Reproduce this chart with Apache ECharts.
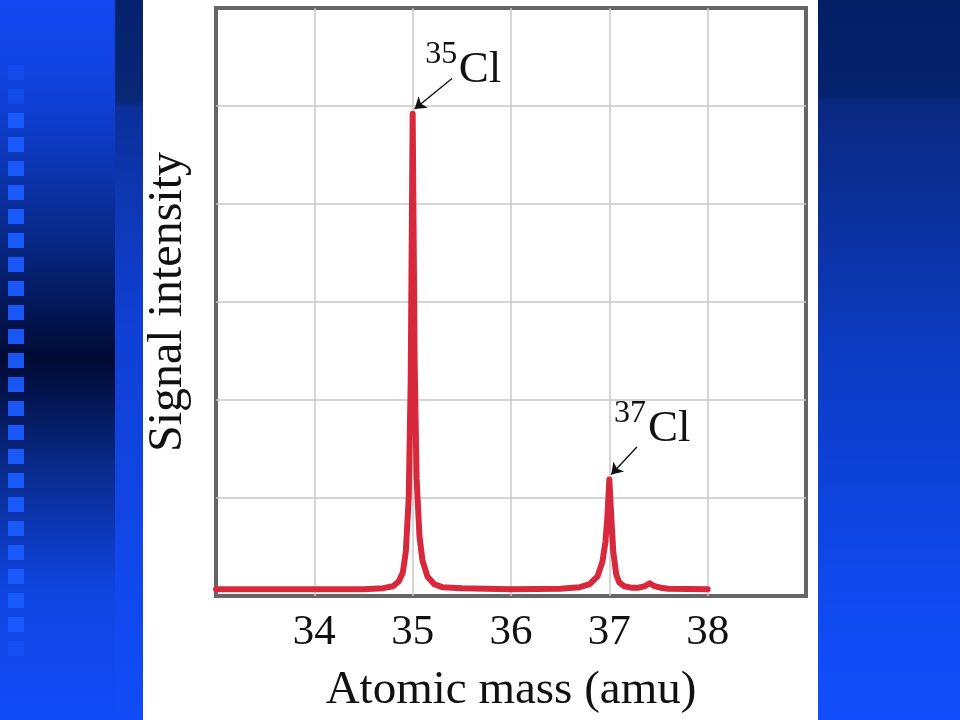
<!DOCTYPE html>
<html>
<head>
<meta charset="utf-8">
<script src="https://cdn.jsdelivr.net/npm/echarts@6/dist/echarts.min.js"></script>
<style>html,body{margin:0;padding:0;background:#fff}#c{width:960px;height:720px}</style>
</head>
<body>
<div id="c"></div>
<script>
// ---- data ----
const massValues = [33.0, 34.5, 34.7, 34.8, 34.86, 34.9, 34.93, 34.96, 34.98, 35.0, 35.02, 35.04, 35.07, 35.1, 35.15, 35.22, 35.3, 35.5, 36.0, 36.5, 36.7, 36.8, 36.88, 36.93, 36.96, 36.98, 37.0, 37.02, 37.04, 37.07, 37.1, 37.15, 37.22, 37.3, 37.36, 37.41, 37.46, 37.52, 37.6, 38.0];
const signalValues = [0.07, 0.07, 0.08, 0.1, 0.15, 0.24, 0.45, 1.0, 2.2, 4.92, 2.4, 1.2, 0.6, 0.36, 0.2, 0.12, 0.09, 0.08, 0.07, 0.075, 0.09, 0.12, 0.2, 0.35, 0.55, 0.8, 1.19, 0.8, 0.45, 0.22, 0.14, 0.1, 0.085, 0.085, 0.1, 0.13, 0.1, 0.085, 0.075, 0.07];
const tickLabels = ['34', '35', '36', '37', '38'];
// isotope labels: mass-number superscript, element symbol, arrow from/to (data coords)
const peakLabels = [
  { sup: '35', el: 'Cl', supAt: [35.29, 5.52], elAt: [35.685, 5.37], from: [35.40, 5.28], to: [35.02, 4.97] },
  { sup: '37', el: 'Cl', supAt: [37.21, 1.86], elAt: [37.61, 1.70], from: [37.28, 1.52], to: [37.02, 1.24] }
];
const xTitle = 'Atomic mass (amu)';
const yTitle = 'Signal intensity';

const serif = '"Liberation Serif", "DejaVu Serif", serif';
const chart = echarts.init(document.getElementById('c'), null, { renderer: 'canvas' });

// decorative slide background
const deco = [];
deco.push({ type: 'rect', z: -10, shape: { x: 0, y: 0, width: 960, height: 720 }, style: { fill: '#ffffff' } });
deco.push({ type: 'rect', z: -9, shape: { x: 0, y: 0, width: 116, height: 720 }, style: { fill: new echarts.graphic.LinearGradient(0, 0, 0, 1, [
  { offset: 0, color: '#1148f2' }, { offset: 0.14, color: '#0f40d8' }, { offset: 0.32, color: '#082a8c' },
  { offset: 0.5, color: '#000a33' }, { offset: 0.66, color: '#0a2c90' }, { offset: 0.82, color: '#0f44e0' }, { offset: 1, color: '#124cf8' }]) } });
deco.push({ type: 'rect', z: -9, shape: { x: 115, y: 0, width: 28, height: 720 }, style: { fill: new echarts.graphic.LinearGradient(0, 0, 0, 1, [
  { offset: 0, color: '#06226e' }, { offset: 0.14, color: '#082775' }, { offset: 0.15, color: '#0b309a' }, { offset: 0.45, color: '#1040d4' }, { offset: 1, color: '#124cf8' }]) } });
deco.push({ type: 'rect', z: -9, shape: { x: 818, y: 0, width: 142, height: 720 }, style: { fill: new echarts.graphic.LinearGradient(0, 0, 0, 1, [
  { offset: 0, color: '#041f66' }, { offset: 0.135, color: '#05226e' }, { offset: 0.14, color: '#0a2880' }, { offset: 0.5, color: '#0c3cc4' }, { offset: 0.8, color: '#0f48ec' }, { offset: 1, color: '#124ffc' }]) } });
for (let y = 65; y < 660; y += 24) {
  deco.push({ type: 'rect', z: -8, shape: { x: 8, y: y, width: 16, height: 15 }, style: { fill: '#1a5cff', opacity: y < 90 || y > 630 ? 0.4 : 0.95 } });
}

const seriesData = massValues.map((m, i) => [m, signalValues[i]]);
const gridLine = { show: true, showMinLine: false, showMaxLine: false, lineStyle: { color: '#c8c8c8', width: 1.5 } };

const labelPoints = [];
peakLabels.forEach(p => {
  labelPoints.push({ coord: p.supAt, value: p.sup, label: { fontSize: 32 } });
  labelPoints.push({ coord: p.elAt, value: p.el, label: { fontSize: 45 } });
});

chart.setOption({
  animation: false,
  graphic: deco,
  grid: { left: 216, right: 154, top: 8, bottom: 124, show: true, borderColor: '#666666', borderWidth: 4, backgroundColor: 'transparent' },
  xAxis: {
    type: 'value', min: 33, max: 39, interval: 1,
    axisLine: { show: false }, axisTick: { show: false },
    splitLine: gridLine,
    axisLabel: {
      margin: 15, fontFamily: serif, fontSize: 43, color: '#111',
      formatter: v => tickLabels.indexOf(String(v)) >= 0 ? String(v) : ''
    },
    name: xTitle, nameLocation: 'middle', nameGap: 71,
    nameTextStyle: { fontFamily: serif, fontSize: 47, color: '#111' }
  },
  yAxis: {
    type: 'value', min: 0, max: 6, interval: 1,
    axisLine: { show: false }, axisTick: { show: false }, axisLabel: { show: false },
    splitLine: gridLine,
    name: yTitle, nameLocation: 'middle', nameGap: 24, nameRotate: 90,
    nameTextStyle: { fontFamily: serif, fontSize: 48, color: '#111' }
  },
  series: [{
    type: 'line', data: seriesData, showSymbol: false, smooth: false, clip: true,
    lineStyle: { color: '#d8283c', width: 6, cap: 'round', join: 'round' },
    markLine: {
      silent: true, symbol: ['none', 'arrow'], symbolSize: 11,
      lineStyle: { color: '#111', width: 1.4, type: 'solid' }, label: { show: false },
      data: peakLabels.map(p => [{ coord: p.from }, { coord: p.to }])
    },
    markPoint: {
      silent: true, symbol: 'circle', symbolSize: 0,
      label: {
        show: true, position: 'inside', color: '#111', fontFamily: serif,
        formatter: p => p.value
      },
      data: labelPoints
    }
  }]
});
</script>
</body>
</html>
